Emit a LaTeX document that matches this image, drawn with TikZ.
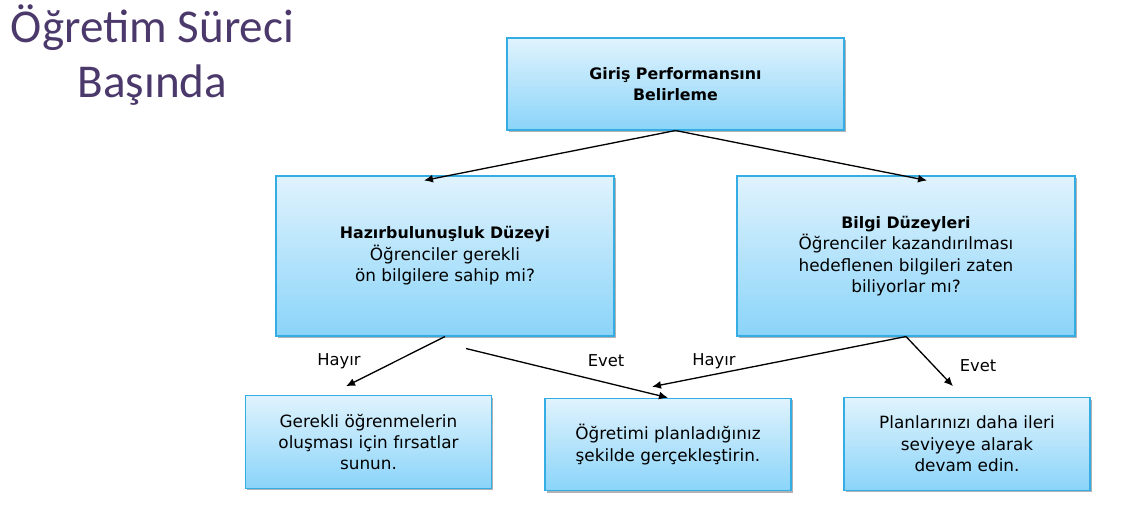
\documentclass[tikz,border=0pt]{standalone}
\usepackage{fontspec}
\setmainfont{DejaVu Sans}
\newfontfamily\titlefont{Carlito}
\usepackage{xcolor}
\usetikzlibrary{positioning,arrows.meta,shadows}

\definecolor{titlepurple}{RGB}{76,57,108}
\definecolor{boxedge}{RGB}{52,172,228}
\definecolor{boxtop}{RGB}{224,243,253}
\definecolor{boxbottom}{RGB}{138,212,249}

% bold heading line inside a box
\newcommand{\boxhead}[1]{{\fontsize{9}{12.2}\selectfont\bfseries #1}}

\begin{document}
\begin{tikzpicture}[
    font=\fontsize{9.6}{12.2}\selectfont,
    box/.style={draw=boxedge, line width=0.6pt, align=center, top color=boxtop, bottom color=boxbottom,
                drop shadow={shadow xshift=0.035cm, shadow yshift=-0.04cm, opacity=0.3, fill=black}},
    bigbox/.style={box, minimum width=6.76cm, minimum height=3.2cm},
    endbox/.style={box, minimum width=4.92cm, minimum height=1.85cm},
    arrow/.style={-{Latex[length=1.8mm, width=1.6mm]}, line width=0.75pt},
    lbl/.style={inner sep=1pt, font=\fontsize{9.3}{11}\selectfont}
]
\useasboundingbox (0,0) rectangle (22.96,-10.28);

\node[text=titlepurple, align=center, font=\titlefont\fontsize{26.8}{31.5}\selectfont] (title) at (3.05,-1.1) {Öğretim Süreci\\Başında};

\node[box, minimum width=6.74cm, minimum height=1.84cm] (giris) at (13.51,-1.68) {\boxhead{Giriş Performansını}\\\boxhead{Belirleme}};

\node[bigbox] (hazir) at (8.9,-5.12) {\boxhead{Hazırbulunuşluk Düzeyi}\\Öğrenciler gerekli\\ön bilgilere sahip mi?};
\node[bigbox] (bilgi) at (18.12,-5.12) {\boxhead{Bilgi Düzeyleri}\\Öğrenciler kazandırılması\\hedeflenen bilgileri zaten\\biliyorlar mı?};

\node[endbox] (firsat) at (7.37,-8.84) {Gerekli öğrenmelerin\\oluşması için fırsatlar\\sunun.};
\node[endbox] (ogret) at (13.36,-8.89) {Öğretimi planladığınız\\şekilde gerçekleştirin.};
\node[endbox] (devam) at (19.34,-8.88) {Planlarınızı daha ileri\\seviyeye alarak\\devam edin.};

\node[lbl] (hayir1) at (6.78,-7.22) {Hayır};
\node[lbl] (evet1) at (12.12,-7.22) {Evet};
\node[lbl] (hayir2) at (14.28,-7.22) {Hayır};
\node[lbl] (evet2) at (19.56,-7.32) {Evet};

\draw[arrow] (giris.south) -- ([xshift=-4.2mm, yshift=-1mm]hazir.north);
\draw[arrow] (giris.south) -- ([xshift=4.2mm, yshift=-1mm]bilgi.north);
\draw[arrow] (hazir.south) -- ([xshift=-4.5mm, yshift=1.8mm]firsat.north);
\draw[arrow] ([xshift=4.2mm, yshift=-2.4mm]hazir.south) -- (ogret.north);
\draw[arrow] (bilgi.south) -- ([xshift=-3.2mm, yshift=2.2mm]ogret.north);
\draw[arrow] (bilgi.south) -- ([xshift=-2.8mm, yshift=2.2mm]devam.north);
\end{tikzpicture}
\end{document}
